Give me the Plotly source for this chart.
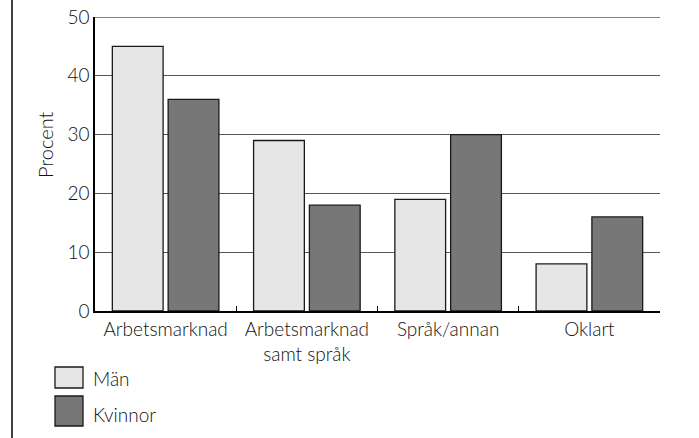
import plotly.graph_objects as go

categories = ["Arbetsmarknad", "Arbetsmarknad<br>samt språk", "Språk/annan", "Oklart"]
series_names = ["Män", "Kvinnor"]
man_values = [45, 29, 19, 8]
kvinnor_values = [36, 18, 30, 16]
y_ticks = [0, 10, 20, 30, 40, 50]
y_title = "Procent"

colors = ["#e6e6e6", "#777777"]
FONT = "Lato Light, Lato"
TXT = "#111"
GRID = "#555"

fig = go.Figure()
for name, vals, col in zip(series_names, [man_values, kvinnor_values], colors):
    fig.add_trace(go.Bar(
        x=categories, y=vals, name=name,
        marker=dict(color=col, line=dict(color="#1a1a1a", width=1.3)),
        showlegend=False,
    ))

L, T, R, B = 95, 17, 699 - 660, 438 - 311
fig.update_layout(
    width=699, height=438,
    margin=dict(l=L, r=R, t=T, b=B),
    paper_bgcolor="white", plot_bgcolor="white",
    barmode="group", bargap=0.21, bargroupgap=0.09,
    font=dict(family=FONT, size=19, color=TXT),
)
fig.update_xaxes(
    showline=True, linecolor="black", linewidth=2,
    ticks="inside", tickson="boundaries", ticklen=5, tickcolor="black", tickwidth=1.2,
    showgrid=False, tickfont=dict(size=19, family=FONT, color=TXT), automargin=False,
)
fig.update_yaxes(
    range=[0, 50], tickvals=y_ticks, ticktext=[str(v) for v in y_ticks],
    showline=True, linecolor="black", linewidth=1.5,
    showgrid=True, gridcolor=GRID, gridwidth=1.3, zeroline=False,
    ticks="inside", ticklen=4, tickcolor=GRID,
    ticklabeloverflow="allow",
    tickfont=dict(size=19, family=FONT, color=TXT), automargin=False,
)

# top gridline at the maximum tick
fig.add_shape(type="line", xref="paper", yref="y",
              x0=0, x1=1, y0=y_ticks[-1], y1=y_ticks[-1],
              line=dict(color=GRID, width=1.3), layer="below")

pw, ph = 565, 294
def px(x):
    return (x - 95) / pw
def py(y):
    return (311 - y) / ph

# y-axis title
fig.add_annotation(text=y_title, xref="paper", yref="paper",
                   x=px(45), y=py(145), xanchor="center", yanchor="middle",
                   textangle=-90, showarrow=False,
                   font=dict(size=20, family=FONT, color=TXT))

# left page border line
fig.add_shape(type="line", xref="paper", yref="paper",
              x0=px(12), x1=px(12), y0=py(438), y1=py(0),
              line=dict(color="black", width=1.5))

boxes = [(55, 367, 83, 388), (55, 396, 83, 426)]
text_y = [378, 414]
for name, col, (x0, y0, x1, y1), ty in zip(series_names, colors, boxes, text_y):
    fig.add_shape(type="rect", xref="paper", yref="paper",
                  x0=px(x0), x1=px(x1), y0=py(y1), y1=py(y0),
                  fillcolor=col, line=dict(color="#1a1a1a", width=1.3))
    fig.add_annotation(text=name, xref="paper", yref="paper",
                       x=px(91), y=py(ty), xanchor="left", yanchor="middle",
                       showarrow=False, font=dict(size=19, family=FONT, color=TXT))

fig.write_html("out.html", config={"displayModeBar": False},
               post_script="document.body.style.margin='0';")
